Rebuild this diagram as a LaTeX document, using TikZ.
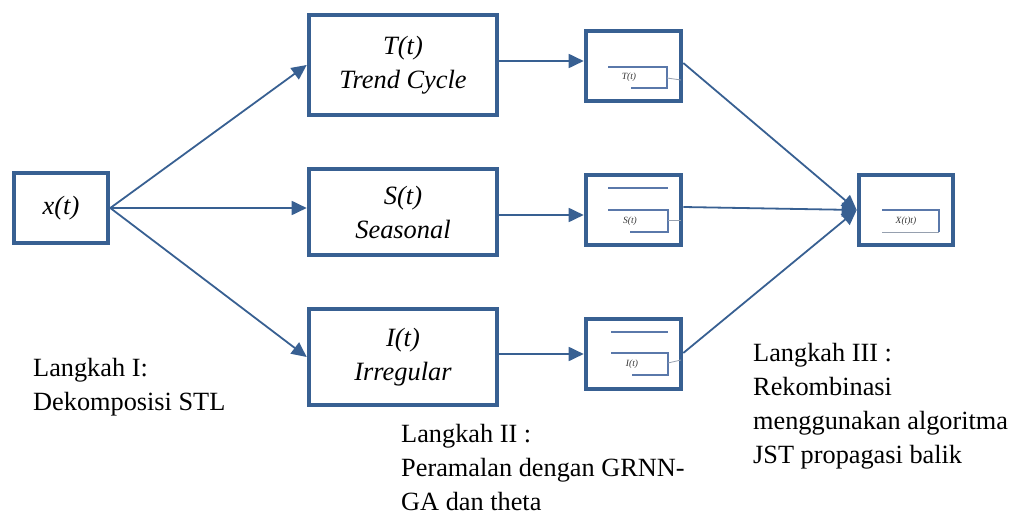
\documentclass[tikz,border=0pt]{standalone}
\usepackage{fontspec}
\setmainfont{Liberation Serif}
\usetikzlibrary{arrows.meta}
\definecolor{boxblue}{RGB}{56,96,146}
\definecolor{innerblue}{RGB}{90,120,170}
\definecolor{innergray}{RGB}{150,160,175}
\tikzset{
  bigbox/.style={draw=boxblue, line width=4.6pt, inner sep=0pt, align=center, font=\fontsize{26.4}{34}\selectfont\itshape},
  smallbox/.style={draw=boxblue, line width=4.6pt, inner sep=0pt, minimum width=95pt, minimum height=70pt},
  conn/.style={draw=boxblue, line width=1.8pt, -{Triangle[length=15pt,width=14pt]}},
  label/.style={anchor=north west, inner sep=0pt, align=left, font=\fontsize{26.3}{34}\selectfont},
  tiny/.style={inner sep=0pt, font=\fontsize{9.5}{10}\selectfont\itshape, text=black!80},
  innerline/.style={draw=innerblue, line width=1.4pt},
  grayline/.style={draw=innergray, line width=0.8pt}
}
\begin{document}
\begin{tikzpicture}[x=1pt,y=-1pt]
\useasboundingbox (0,0) rectangle (1014,516);
% main boxes
\node[bigbox, minimum width=94pt, minimum height=70pt] (X) at (61,208) {x(t)};
\node[bigbox, minimum width=188pt, minimum height=100pt] (T) at (403,65) {T(t)\\Trend Cycle};
\node[bigbox, minimum width=188pt, minimum height=86pt] (S) at (403,212) {S(t)\\Seasonal};
\node[bigbox, minimum width=188pt, minimum height=96pt] (I) at (403,357) {I(t)\\Irregular};
% small boxes
\node[smallbox] (sT) at (633.5,66) {};
\node[smallbox] (sS) at (633.5,210) {};
\node[smallbox] (sI) at (633.5,354) {};
\node[smallbox, minimum width=94pt] (F) at (906,210) {};
% inner details
\draw[innerline] (608,67) -- (667,67) -- (667,88) -- (631,88);
\draw[grayline] (667,78) -- (681,80);
\node[tiny] (tT) at (629,77) {T(t)};
\draw[innerline] (608,188) -- (668,188);
\draw[innerline] (608,210) -- (668,210) -- (668,232) -- (630,232);
\draw[grayline] (668,220) -- (681,220);
\node[tiny] (tS) at (630,221) {S(t)};
\draw[innerline] (611,332) -- (668,332);
\draw[innerline] (611,353) -- (668,353) -- (668,375) -- (632,375);
\draw[grayline] (668,363) -- (681,360);
\node[tiny] (tI) at (632,364) {I(t)};
\draw[innerline] (882,210) -- (939,210) -- (939,232);
\draw[grayline] (882,232) -- (939,232);
\node[tiny] (tF) at (906,221) {X(t)t)};
% connectors
\draw[conn] (X.east) -- (T.west);
\draw[conn] (X.east) -- (X.east -| S.west);
\draw[conn] (X.east) -- (I.west);
\draw[conn] ([yshift=4pt]T.east) -- ([yshift=4pt]T.east -| sT.west);
\draw[conn] ([yshift=-3pt]S.east) -- ([yshift=-3pt]S.east -| sS.west);
\draw[conn] ([yshift=3pt]I.east) -- ([yshift=3pt]I.east -| sI.west);
\draw[conn] ([yshift=3pt]sT.east) -- (F.west);
\draw[conn] ([yshift=3pt]sS.east) -- (F.west);
\draw[conn] ([yshift=1pt]sI.east) -- (F.west);
% step labels
\node[label] (L1) at (33,358) {Langkah I:\\Dekomposisi STL};
\node[label] (L2) at (401,424) {Langkah II :\\Peramalan dengan GRNN-\\GA dan theta};
\node[label] (L3) at (753,343) {Langkah III :\\Rekombinasi\\menggunakan algoritma\\JST propagasi balik};
\end{tikzpicture}
\end{document}
